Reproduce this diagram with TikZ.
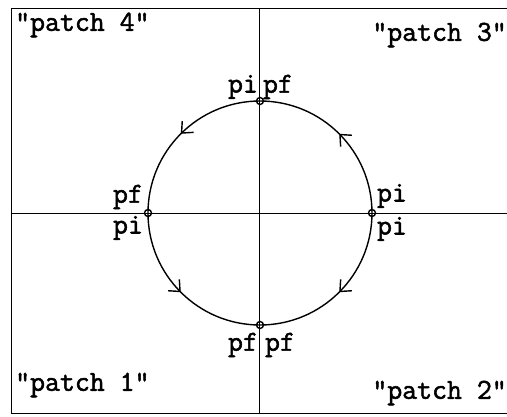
\documentclass[tikz,border=0pt]{standalone}
\usepackage{fontspec}
\newfontfamily\patchfont[FakeBold=1.8]{Latin Modern Mono}
\usetikzlibrary{arrows.meta, decorations.markings}

\begin{document}
\begin{tikzpicture}[x=1pt, y=1pt,
  axis/.style={line width=1pt},
  patcharc/.style={line width=1.4pt, postaction={decorate},
    decoration={markings, mark=at position 0.5 with
      {\arrow{Straight Barb[length=9pt, width=16pt, line width=1.4pt]}}}},
  endpt/.style={circle, draw, line width=1.4pt, inner sep=0pt, minimum size=7pt},
  lbl/.style={font=\patchfont\bfseries\fontsize{29}{30}\selectfont, inner sep=0pt}]
  \useasboundingbox (-260,-203) rectangle (247,213);
  % frame and axes
  \draw[axis] (250,205) -- (-248,205) -- (-248,-200) -- (250,-200);
  \coordinate (xl) at (-248,0);
  \coordinate (xr) at (250,0);
  \coordinate (yt) at (0,205);
  \coordinate (yb) at (0,-200);
  \draw[axis] (xl) -- (xr);
  \draw[axis] (yt) -- (yb);
  % patch end points
  \coordinate (pR) at (112,0);
  \coordinate (pT) at (0,112);
  \coordinate (pL) at (-112,0);
  \coordinate (pB) at (0,-112);
  \draw[patcharc] (pR) arc[start angle=0, end angle=90, radius=112];
  \draw[patcharc] (pT) arc[start angle=90, end angle=180, radius=112];
  \draw[patcharc] (pL) arc[start angle=180, end angle=270, radius=112];
  \draw[patcharc] (pR) arc[start angle=0, end angle=-90, radius=112];
  \node[endpt] (nR) at (pR) {};
  \node[endpt] (nT) at (pT) {};
  \node[endpt] (nL) at (pL) {};
  \node[endpt] (nB) at (pB) {};
  % end point labels
  \node[lbl] (piT) at (-17,126) {pi};
  \node[lbl] (pfT) at (18,126) {pf};
  \node[lbl] (pfL) at (-132,16) {pf};
  \node[lbl] (piL) at (-132,-15) {pi};
  \node[lbl] (piR3) at (132,17) {pi};
  \node[lbl] (piR2) at (132,-16) {pi};
  \node[lbl] (pfB1) at (-17,-132) {pf};
  \node[lbl] (pfB2) at (20,-132) {pf};
  % patch names
  \node[lbl, anchor=west] (patch4) at (-245,188) {"patch 4"};
  \node[lbl, anchor=east] (patch3) at (247,178) {"patch 3"};
  \node[lbl, anchor=west] (patch1) at (-245,-172) {"patch 1"};
  \node[lbl, anchor=east] (patch2) at (247,-180) {"patch 2"};
\end{tikzpicture}
\end{document}
